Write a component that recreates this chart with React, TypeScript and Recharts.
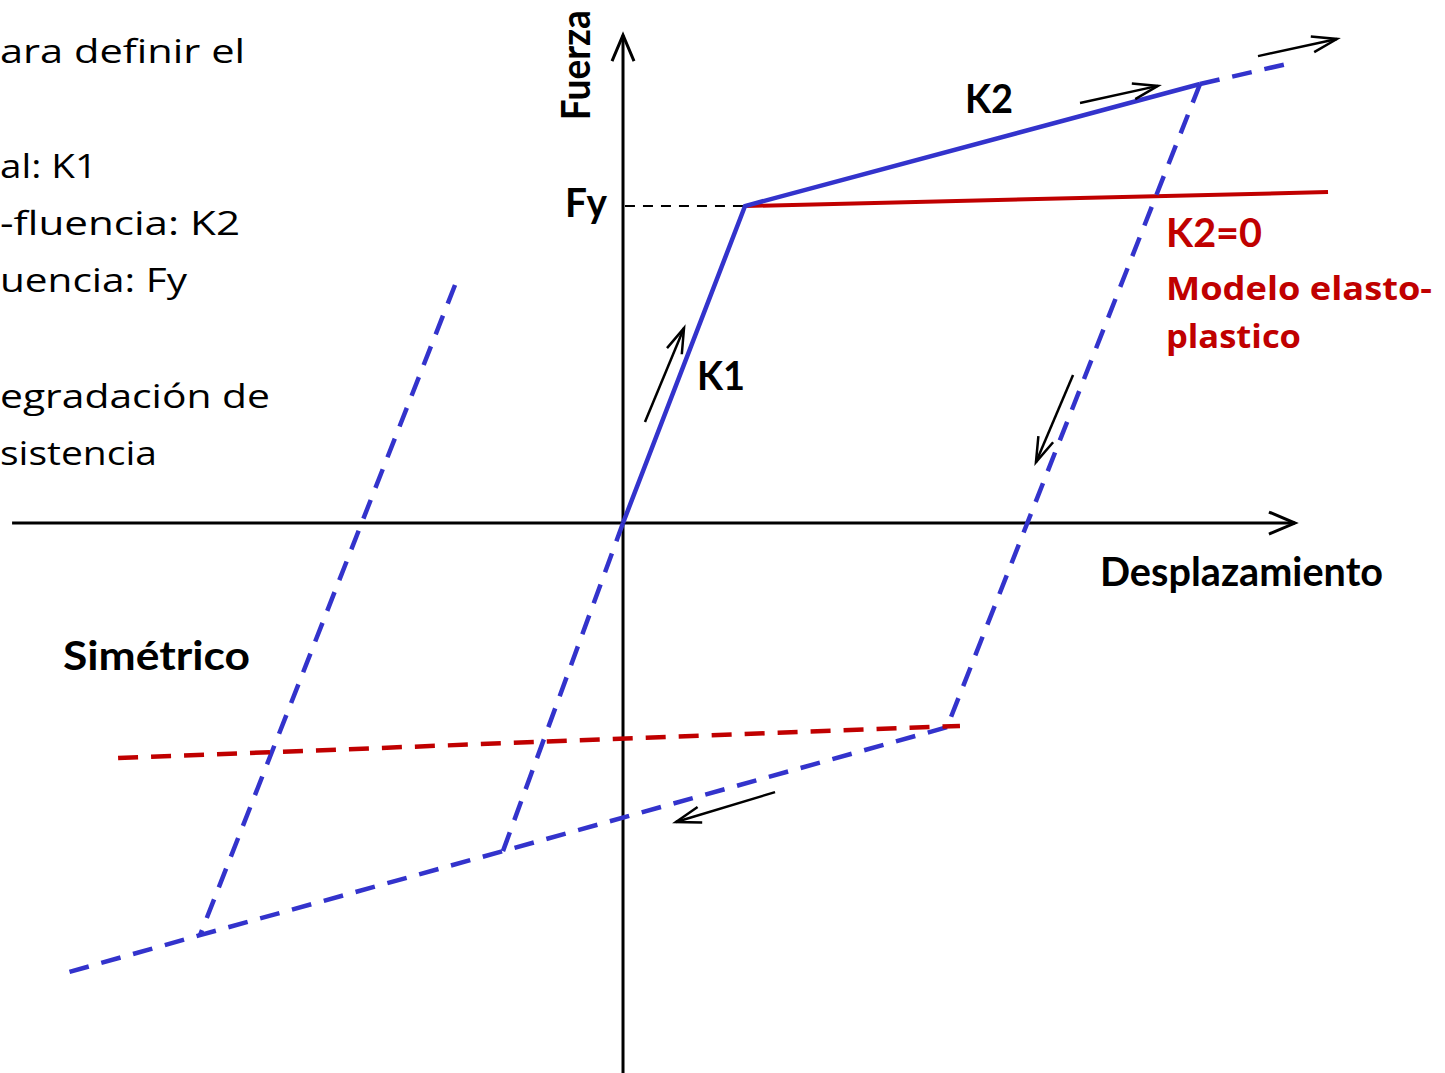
import { ComposedChart, Line, Scatter, XAxis, YAxis, Customized } from 'recharts';

// units: displacement / Dy, force / Fy (yield point is at 1,1)
const xDomain = [-5.107, 6.738];
const yDomain = [-1.735, 1.65];

const BLUE = '#3333cc';
const RED = '#c00000';

const axisX = [{ x: -5.008, y: 0 }, { x: 5.508, y: 0 }];
const axisY = [{ x: 0, y: -1.735 }, { x: 0, y: 1.539 }];

const backbone = [{ x: 0, y: 0 }, { x: 1, y: 1 }, { x: 4.73, y: 1.385 }];
const backboneExt = [{ x: 4.73, y: 1.385 }, { x: 5.508, y: 1.454 }];
const unloading = [{ x: 4.73, y: 1.385 }, { x: 2.656, y: -0.644 }];
const reverseK2 = [
  { x: 2.656, y: -0.644 },
  { x: -0.984, y: -1.035 },
  { x: -3.467, y: -1.3 },
  { x: -4.574, y: -1.42 },
];
const reloading = [{ x: -0.984, y: -1.035 }, { x: 0, y: 0 }];
const leftBranch = [{ x: -1.377, y: 0.751 }, { x: -3.467, y: -1.3 }];

const elastoPlastic = [{ x: 1, y: 1 }, { x: 5.779, y: 1.044 }];
const elastoPlasticNeg = [{ x: -4.139, y: -0.741 }, { x: 2.762, y: -0.64 }];
const fyGuide = [{ x: 0.016, y: 1 }, { x: 1, y: 1 }];

const arrows = [
  [{ x: 0.18, y: 0.319 }, { x: 0.5, y: 0.615 }],
  [{ x: 3.746, y: 1.325 }, { x: 4.385, y: 1.379 }],
  [{ x: 5.205, y: 1.473 }, { x: 5.852, y: 1.527 }],
  [{ x: 3.689, y: 0.467 }, { x: 3.385, y: 0.192 }],
  [{ x: 1.246, y: -0.849 }, { x: 0.434, y: -0.943 }],
];

const notes = [
  { x: -5.107, y: 1.451, text: 'ara definir el' },
  { x: -5.107, y: 1.088, text: 'al: K1' },
  { x: -5.107, y: 0.909, text: '-fluencia: K2' },
  { x: -5.107, y: 0.729, text: 'uencia: Fy' },
  { x: -5.107, y: 0.363, text: 'egradación de' },
  { x: -5.107, y: 0.183, text: 'sistencia' },
];

const boldLabels = [
  { x: -0.475, y: 0.965, text: 'Fy' },
  { x: 2.803, y: 1.293, text: 'K2' },
  { x: 0.607, y: 0.42, text: 'K1' },
  { x: 3.91, y: -0.199, text: 'Desplazamiento' },
  { x: -4.59, y: -0.464, text: 'Simétrico' },
];
const yLabel = [{ x: -0.27, y: 1.271, text: 'Fuerza' }];

const redTitle = [{ x: 4.451, y: 0.871, text: 'K2=0' }];
const redNotes = [
  { x: 4.451, y: 0.703, text: 'Modelo elasto-' },
  { x: 4.451, y: 0.552, text: 'plastico' },
];

// rendered widths (px) of the labels in the original slide
const textWidths: Record<string, number> = {
  'ara definir el': 245,
  'al: K1': 97,
  '-fluencia: K2': 240,
  'uencia: Fy': 187,
  'egradación de': 270,
  'sistencia': 157,
  Fy: 42,
  K2: 48,
  K1: 48,
  Desplazamiento: 283,
  'Simétrico': 187,
  Fuerza: 110,
  'K2=0': 96,
  'Modelo elasto-': 266,
  plastico: 135,
};

function textShape(font: string, size: number, weight: number, color: string, rotate = false) {
  return (props: any) => {
    const { cx, cy, payload } = props;
    return (
      <text
        x={cx}
        y={cy}
        fontFamily={font}
        fontSize={size}
        fontWeight={weight}
        fill={color}
        textLength={textWidths[payload.text]}
        lengthAdjust="spacingAndGlyphs"
        transform={rotate ? `rotate(-90 ${cx} ${cy})` : undefined}
      >
        {payload.text}
      </text>
    );
  };
}

const SANS = '"Open Sans", sans-serif';
const BOLD = 'Lato, "Open Sans", sans-serif';

function ArrowDefs() {
  return (
    <defs>
      <marker id="axisHead" markerUnits="userSpaceOnUse" markerWidth={40} markerHeight={40}
        refX={30} refY={20} orient="auto" overflow="visible">
        <path d="M4,9 L30,20 L4,31" fill="none" stroke="#000" strokeWidth={3} />
      </marker>
      <marker id="smallHead" markerUnits="userSpaceOnUse" markerWidth={40} markerHeight={40}
        refX={30} refY={20} orient="auto" overflow="visible">
        <path d="M5,12 L30,20 L5,28" fill="none" stroke="#000" strokeWidth={2.5} />
      </marker>
    </defs>
  );
}

const lineProps = {
  dataKey: 'y',
  type: 'linear' as const,
  dot: false,
  activeDot: false,
  isAnimationActive: false,
  legendType: 'none' as const,
};

export default function App() {
  return (
    <div style={{ position: 'absolute', left: 0, top: 0, width: 1445, height: 1073, background: '#fff' }}>
      <ComposedChart width={1445} height={1073} margin={{ top: 0, right: 0, bottom: 0, left: 0 }}>
        <Customized component={ArrowDefs} />
        <XAxis type="number" dataKey="x" domain={xDomain} hide />
        <YAxis type="number" dataKey="y" domain={yDomain} hide />

        <Line {...lineProps} data={axisX} stroke="#000" strokeWidth={3} markerEnd="url(#axisHead)" />
        <Line {...lineProps} data={axisY} stroke="#000" strokeWidth={3} markerEnd="url(#axisHead)" />
        <Line {...lineProps} data={fyGuide} stroke="#000" strokeWidth={2} strokeDasharray="10 8" />

        <Line {...lineProps} data={elastoPlastic} stroke={RED} strokeWidth={4} />

        <Line {...lineProps} data={unloading} stroke={BLUE} strokeWidth={4.5} strokeDasharray="20 13" />
        <Line {...lineProps} data={reverseK2} stroke={BLUE} strokeWidth={4.5} strokeDasharray="20 13" />
        <Line {...lineProps} data={reloading} stroke={BLUE} strokeWidth={4.5} strokeDasharray="20 13" />
        <Line {...lineProps} data={leftBranch} stroke={BLUE} strokeWidth={4.5} strokeDasharray="20 13" />
        <Line {...lineProps} data={backboneExt} stroke={BLUE} strokeWidth={4.5} strokeDasharray="20 13" />
        <Line {...lineProps} data={elastoPlasticNeg} stroke={RED} strokeWidth={4.5} strokeDasharray="20 13" />
        <Line {...lineProps} data={backbone} stroke={BLUE} strokeWidth={4.5} />

        {arrows.map((a, i) => (
          <Line key={i} {...lineProps} data={a} stroke="#000" strokeWidth={2.5} markerEnd="url(#smallHead)" />
        ))}

        <Scatter data={notes} isAnimationActive={false} shape={textShape(SANS, 33, 400, '#000')} />
        <Scatter data={boldLabels} isAnimationActive={false} shape={textShape(BOLD, 40, 700, '#000')} />
        <Scatter data={yLabel} isAnimationActive={false} shape={textShape(BOLD, 40, 700, '#000', true)} />
        <Scatter data={redTitle} isAnimationActive={false} shape={textShape(BOLD, 40, 700, RED)} />
        <Scatter data={redNotes} isAnimationActive={false} shape={textShape(SANS, 33, 700, RED)} />
      </ComposedChart>
    </div>
  );
}
